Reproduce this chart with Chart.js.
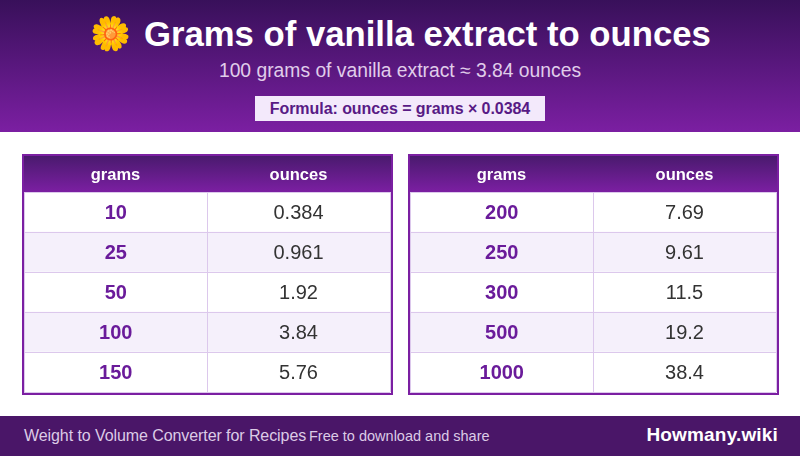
<!DOCTYPE html>
<html>
<head>
<meta charset="utf-8">
<script src="https://cdn.jsdelivr.net/npm/chart.js"></script>
<style>
  html, body { margin: 0; padding: 0; }
  body { width: 800px; height: 456px; position: relative; overflow: hidden; background: #fff; font-family: "Liberation Sans", Arial, sans-serif; }
  #banner { position: absolute; left: 0; top: 0; width: 800px; height: 132px; background: linear-gradient(180deg, #38105a, #7b1fa2); text-align: center; }
  #emoji { position: absolute; left: 90px; top: 13px; font-size: 33px; line-height: 42px; filter: saturate(1.4); }
  #title { position: absolute; left: 144px; top: 13px; font-size: 34.7px; line-height: 42px; font-weight: bold; color: #fff; white-space: pre; }
  #subtitle { position: absolute; left: 0; top: 60px; width: 800px; font-size: 19.3px; line-height: 22px; color: #e0cdea; }
  #formula { position: absolute; left: 255px; top: 96px; width: 290px; height: 25px; line-height: 25px; background: #f3e9fb; color: #581a85; font-size: 16px; letter-spacing: -0.06px; font-weight: bold; }
  .tbl { position: absolute; top: 154px; width: 367px; height: 237px; border: 2px solid #7b1fa2; background: #fff linear-gradient(180deg, #4a1a6e, #7b1fa2) no-repeat 0 0 / 100% 36px; }
  .tbl canvas { display: block; }
  #tblA { left: 22px; }
  #tblB { left: 408px; }
  #footer { position: absolute; left: 0; top: 416px; width: 800px; height: 40px; background: #4a1668; }
  #footer span { position: absolute; white-space: nowrap; }
  #footL { left: 24px; top: 10px; font-size: 16px; letter-spacing: -0.08px; line-height: 20px; color: #dccbe6; }
  #footM { left: 309px; top: 10px; font-size: 14.5px; line-height: 20px; color: #dccbe6; }
  #footR { right: 22px; top: 7px; font-size: 19px; letter-spacing: 0.17px; line-height: 24px; font-weight: bold; color: #fff; }
</style>
</head>
<body>
<div id="banner">
  <span id="emoji">🌼</span>
  <div id="title">Grams of vanilla extract to ounces</div>
  <div id="subtitle">100 grams of vanilla extract ≈ 3.84 ounces</div>
  <div id="formula">Formula: ounces = grams × 0.0384</div>
</div>
<div class="tbl" id="tblA"><canvas id="chartA" width="367" height="237"></canvas></div>
<div class="tbl" id="tblB"><canvas id="chartB" width="367" height="237"></canvas></div>
<div id="footer">
  <span id="footL">Weight to Volume Converter for Recipes</span>
  <span id="footM">Free to download and share</span>
  <span id="footR">Howmany.wiki</span>
</div>
<script>
const columns = ["grams", "ounces"];
const gramsA = ["10", "25", "50", "100", "150"];
const ouncesA = ["0.384", "0.961", "1.92", "3.84", "5.76"];
const gramsB = ["200", "250", "300", "500", "1000"];
const ouncesB = ["7.69", "9.61", "11.5", "19.2", "38.4"];

const FONT = "'Liberation Sans', Arial, sans-serif";
const LINE = "#dcc8ec";

/* ===== CELL TEXT ===== */
const cellText = {
  id: "cellText",
  afterDatasetsDraw(chart) {
    const ctx = chart.ctx;
    ctx.save();
    ctx.textAlign = "center";
    ctx.textBaseline = "middle";
    chart.data.datasets.forEach((ds, d) => {
      chart.getDatasetMeta(d).data.forEach((bar, i) => {
        const c = bar.getCenterPoint();
        ctx.font = (d === 0 ? "bold " : "") + "20px " + FONT;
        ctx.fillStyle = d === 0 ? "#6a1b9a" : "#333333";
        ctx.fillText(ds.cells[i], c.x, c.y + 1);
      });
    });
    ctx.restore();
  }
};

/* ===== TABLE ===== */
function renderTable(id, grams, ounces) {
  const rowFill = c => (c.dataIndex % 2 ? "#f5f0fb" : "#ffffff");
  new Chart(document.getElementById(id), {
    type: "bar",
    data: {
      labels: grams,
      datasets: [
        { label: columns[0], cells: grams, data: grams.map(() => 1), backgroundColor: rowFill },
        { label: columns[1], cells: ounces, data: ounces.map(() => 1), backgroundColor: rowFill }
      ]
    },
    options: {
      indexAxis: "y",
      responsive: false,
      animation: false,
      devicePixelRatio: 1,
      layout: { padding: { right: 1, bottom: 1 } },
      plugins: { legend: { display: false }, tooltip: { enabled: false } },
      datasets: { bar: { barPercentage: 1, categoryPercentage: 1, borderWidth: 0 } },
      scales: {
        x: {
          position: "top",
          stacked: true,
          min: 0,
          max: 2,
          afterFit: s => { s.height = 36; },
          border: { display: false },
          grid: {
            z: 1,
            tickLength: 7,
            tickColor: "transparent",
            color: c => (c.tick && Number.isInteger(c.tick.value) ? LINE : "transparent")
          },
          ticks: {
            stepSize: 0.5,
            autoSkip: false,
            maxRotation: 0,
            padding: 0,
            color: "#ffffff",
            font: { family: FONT, size: 16.5, weight: "bold" },
            callback: v => (v === 0.5 ? columns[0] : v === 1.5 ? columns[1] : "")
          }
        },
        y: {
          stacked: true,
          afterFit: s => { s.width = 0; },
          border: { display: false },
          grid: { z: 1, drawTicks: false, color: LINE },
          ticks: { display: false }
        }
      }
    },
    plugins: [cellText]
  });
}

renderTable("chartA", gramsA, ouncesA);
renderTable("chartB", gramsB, ouncesB);
</script>
</body>
</html>
